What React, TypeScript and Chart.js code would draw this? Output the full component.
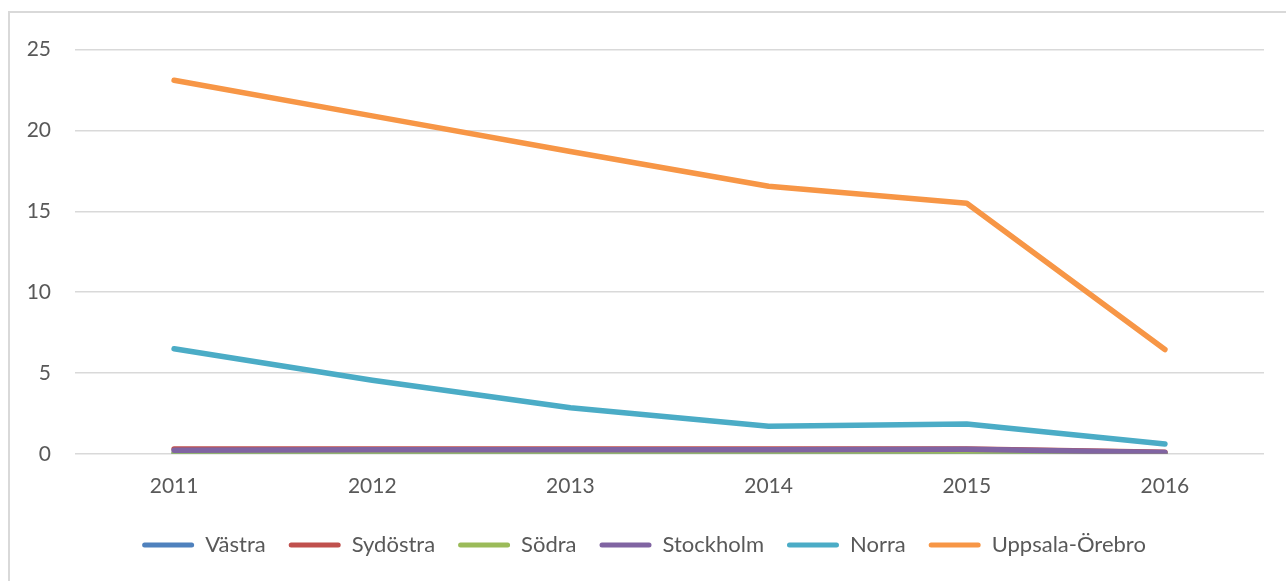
import React, { useEffect, useRef } from "react";
import { Chart, registerables } from "chart.js";

Chart.register(...registerables);

const years = ["2011", "2012", "2013", "2014", "2015", "2016"];
const vastra = [0.0, 0.0, 0.0, 0.0, 0.0, 0.0];
const sydostra = [0.3, 0.3, 0.3, 0.3, 0.3, 0.1];
const sodra = [0.05, 0.05, 0.05, 0.05, 0.05, 0.02];
const stockholm = [0.22, 0.25, 0.25, 0.25, 0.28, 0.08];
const norra = [6.5, 4.55, 2.85, 1.7, 1.85, 0.6];
const uppsala = [23.1, 20.9, 18.7, 16.55, 15.5, 6.45];
const yTicks = [0, 5, 10, 15, 20, 25];

const seriesNames = ["Västra", "Sydöstra", "Södra", "Stockholm", "Norra", "Uppsala-Örebro"];
const seriesValues = [vastra, sydostra, sodra, stockholm, norra, uppsala];
const seriesColors = ["#4F81BD", "#C0504D", "#9BBB59", "#8064A2", "#4BACC6", "#F79646"];

export default function App() {
  const canvasRef = useRef<HTMLCanvasElement | null>(null);

  useEffect(() => {
    if (!canvasRef.current) return;
    const chart = new Chart(canvasRef.current, {
      type: "line",
      data: {
        labels: years,
        datasets: seriesNames.map((name, i) => ({
          label: name,
          data: seriesValues[i],
          borderColor: seriesColors[i],
          backgroundColor: seriesColors[i],
          borderWidth: 5.5,
          borderCapStyle: "round" as const,
          borderJoinStyle: "round" as const,
          pointRadius: 0,
          pointHoverRadius: 0,
          tension: 0,
          fill: false,
          order: seriesNames.length - i,
        })),
      },
      options: {
        animation: false,
        responsive: false,
        maintainAspectRatio: false,
        layout: { padding: { left: 14, right: 22, top: 19, bottom: 15 } },
        plugins: {
          tooltip: { enabled: false },
          legend: {
            position: "bottom",
            labels: {
              color: "#595959",
              font: { family: "Lato", size: 22 },
              boxWidth: 52,
              boxHeight: 5,
              useBorderRadius: true,
              borderRadius: 2.5,
              padding: 23,
              sort: (a: any, b: any) => a.datasetIndex - b.datasetIndex,
              generateLabels: (chart: any) =>
                chart.data.datasets.map((ds: any, i: number) => ({
                  text: ds.label,
                  fillStyle: ds.borderColor,
                  strokeStyle: ds.borderColor,
                  lineWidth: 0,
                  hidden: false,
                  datasetIndex: i,
                  fontColor: "#595959",
                  borderRadius: 2.5,
                })),
            },
          },
        },
        scales: {
          x: {
            offset: true,
            grid: { display: false },
            border: { display: false },
            ticks: {
              color: "#595959",
              font: { family: "Lato", size: 21 },
              padding: 12,
            },
          },
          y: {
            min: 0,
            max: 25,
            afterBuildTicks: (axis: any) => {
              axis.ticks = yTicks.map((v) => ({ value: v }));
            },
            afterFit: (axis: any) => {
              axis.width = 51;
            },
            grid: { color: "#d9d9d9", lineWidth: 1.5, drawTicks: false },
            border: { display: false },
            ticks: {
              color: "#595959",
              font: { family: "Lato", size: 21 },
              padding: 24,
            },
          },
        },
      },
    });
    return () => chart.destroy();
  }, []);

  return (
    <div
      style={{
        position: "fixed",
        left: 0,
        top: 0,
        width: "1286px",
        height: "581px",
        overflow: "hidden",
        background: "#fff",
      }}
    >
      <div
        style={{
          position: "absolute",
          left: "8px",
          top: "11px",
          width: "1300px",
          height: "600px",
          border: "2px solid #d9d9d9",
          boxSizing: "border-box",
        }}
      />
      <canvas
        ref={canvasRef}
        width={1276}
        height={568}
        style={{ position: "absolute", left: "10px", top: "13px", width: "1276px", height: "568px" }}
      />
    </div>
  );
}
